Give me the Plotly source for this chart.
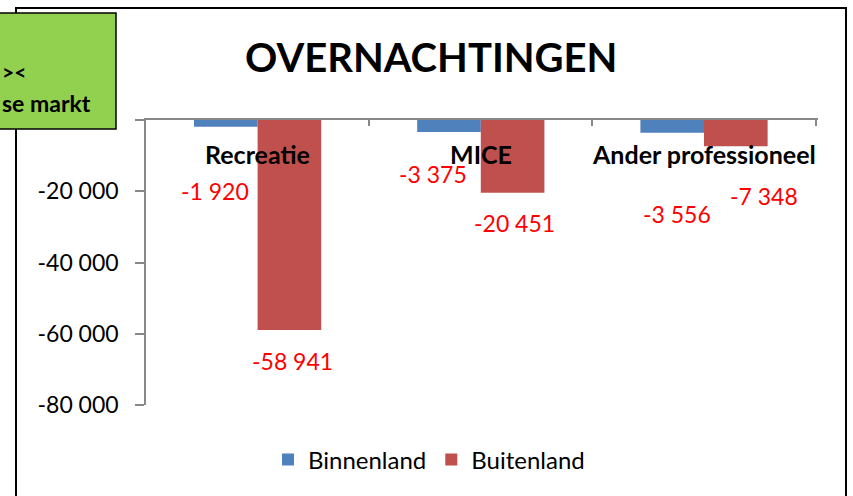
import plotly.graph_objects as go

categories = ["Recreatie", "MICE", "Ander professioneel"]
binnenland = [-1920, -3375, -3556]
buitenland = [-58941, -20451, -7348]
y_tickvals = [0, -20000, -40000, -60000, -80000]
y_ticktext = ["", "-20 000", "-40 000", "-60 000", "-80 000"]
series_names = ["Binnenland", "Buitenland"]
title_text = "OVERNACHTINGEN"
box_lines = ["><", "se markt"]

# label offsets (pixels) for the data labels
bin_offsets = [(-43, -64), (-48, -42), (-27, -81)]
bui_offsets = [(35, -31), (34, -30), (60, -50)]

FONT = "Lato"
W, H = 853, 496
L, R, T, B = 146, 818, 120, 405


def fmt(v):
    return f"{v:,}".replace(",", " ")


def px(x):
    return (x - L) / (R - L)


def py(y):
    return (B - y) / (B - T)


fig = go.Figure()
fig.add_trace(go.Bar(x=categories, y=binnenland, name=series_names[0],
                     marker=dict(color="#4F81BD", line=dict(width=0))))
fig.add_trace(go.Bar(x=categories, y=buitenland, name=series_names[1],
                     marker=dict(color="#C0504D", line=dict(width=0))))

annotations = []
for cat, val, (dx, dy) in zip(categories, binnenland, bin_offsets):
    annotations.append(dict(x=cat, y=val, xref="x", yref="y", text=fmt(val),
                            showarrow=False, xshift=dx, yshift=dy, yanchor="middle",
                            font=dict(family=FONT, size=23, color="#FF0000")))
for cat, val, (dx, dy) in zip(categories, buitenland, bui_offsets):
    annotations.append(dict(x=cat, y=val, xref="x", yref="y", text=fmt(val),
                            showarrow=False, xshift=dx, yshift=dy, yanchor="middle",
                            font=dict(family=FONT, size=23, color="#FF0000")))
for cat in categories:
    annotations.append(dict(x=cat, y=0, xref="x", yref="y", text=f"<b>{cat}</b>",
                            showarrow=False, yshift=-34, yanchor="middle",
                            font=dict(family=FONT, size=25, color="#000000")))

annotations.append(dict(x=px(431), y=py(57), xref="paper", yref="paper",
                        xanchor="center", yanchor="middle",
                        text=f"<b>{title_text}</b>", showarrow=False,
                        font=dict(family=FONT, size=40, color="#000000")))
annotations.append(dict(x=px(0), y=py(72), xref="paper", yref="paper",
                        xanchor="left", yanchor="middle",
                        text=f"<b>{box_lines[0]}</b>", showarrow=False,
                        font=dict(family=FONT, size=21, color="#000000")))
annotations.append(dict(x=px(93), y=py(103), xref="paper", yref="paper",
                        xanchor="right", yanchor="middle",
                        text=f"<b>{box_lines[1]}</b>", showarrow=False,
                        font=dict(family=FONT, size=23, color="#000000")))

shapes = [
    dict(type="rect", xref="paper", yref="paper",
         x0=px(16), x1=px(846), y0=py(520), y1=py(8),
         line=dict(color="#000000", width=2), fillcolor="rgba(0,0,0,0)", layer="above"),
    dict(type="rect", xref="paper", yref="paper",
         x0=px(-10), x1=px(116), y0=py(129), y1=py(13),
         line=dict(color="#000000", width=1.5), fillcolor="#92D050", layer="above"),
]

fig.update_layout(
    width=W, height=H,
    margin=dict(l=L, r=W - R, t=T, b=H - B, pad=0),
    paper_bgcolor="white", plot_bgcolor="white",
    barmode="group", bargap=0.43, bargroupgap=0,
    separators=", ",
    font=dict(family=FONT, size=22, color="#000000"),
    showlegend=True,
    legend=dict(orientation="h", x=px(429), xanchor="center", y=py(460), yanchor="middle",
                font=dict(family=FONT, size=24, color="#000000"),
                itemwidth=30, bgcolor="rgba(0,0,0,0)"),
    xaxis=dict(side="top", showline=True, linecolor="#888888", linewidth=1.5,
               ticks="inside", tickson="boundaries", ticklen=6, tickcolor="#888888",
               tickwidth=1.5, showticklabels=False, showgrid=False, zeroline=False,
               fixedrange=True),
    yaxis=dict(range=[-80000, 0], showline=True, linecolor="#888888", linewidth=1.5,
               ticks="outside", ticklen=9, tickcolor="#888888", tickwidth=1.5,
               tickvals=y_tickvals, ticktext=y_ticktext, showgrid=False,
               zeroline=False, tickfont=dict(family=FONT, size=23, color="#000000"),
               ticklabelstandoff=12, fixedrange=True),
    annotations=annotations,
    shapes=shapes,
)

fig.write_html("out.html", config={"displayModeBar": False},
               post_script="document.body.style.margin='0px';")
